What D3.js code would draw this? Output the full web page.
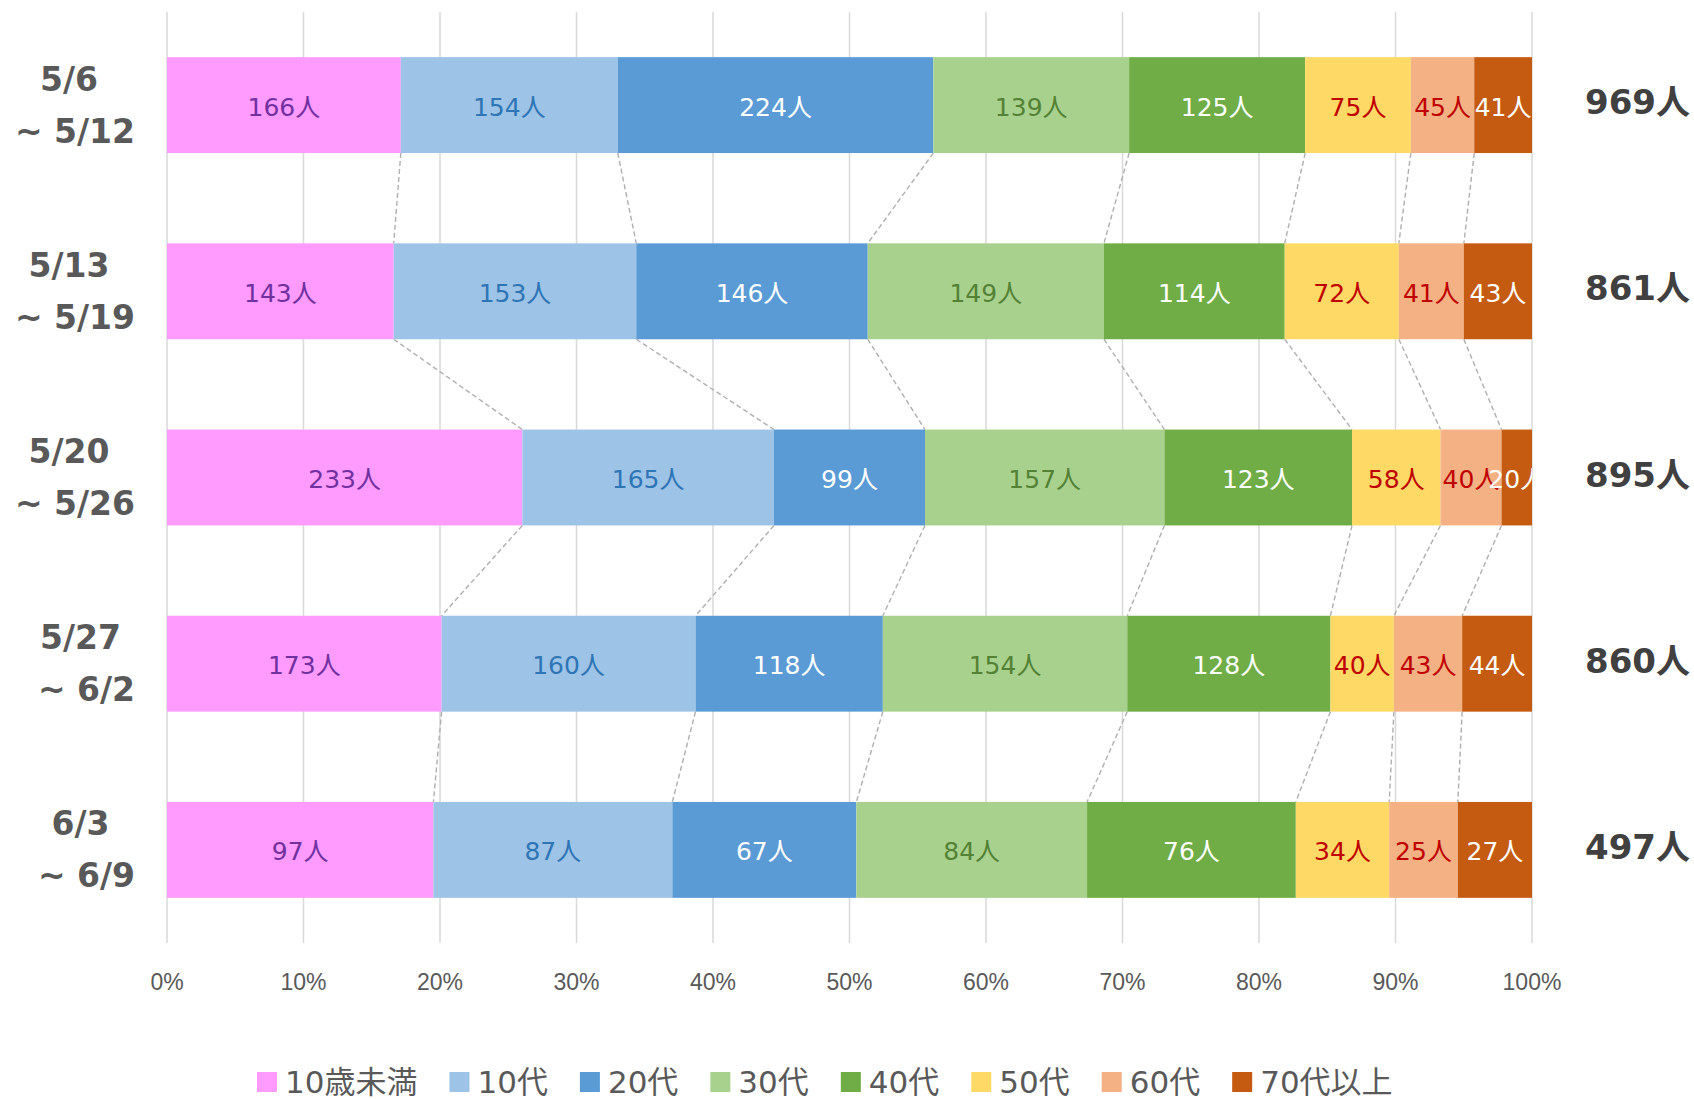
<!DOCTYPE html>
<html><head><meta charset="utf-8">
<script src="https://cdn.jsdelivr.net/npm/d3@7"></script>
<style>
html,body{margin:0;padding:0;background:#fff;}
svg{display:block;}
</style></head>
<body>
<svg id="chart" width="1694" height="1099"></svg>
<script>
const weeksLine1 = ["5/6", "5/13", "5/20", "5/27", "6/3"];
const weeksLine2 = ["~ 5/12", "~ 5/19", "~ 5/26", "~ 6/2", "~ 6/9"];
const ageGroups = ["10歳未満", "10代", "20代", "30代", "40代", "50代", "60代", "70代以上"];
const s10u  = [166, 143, 233, 173, 97];
const s10   = [154, 153, 165, 160, 87];
const s20   = [224, 146, 99, 118, 67];
const s30   = [139, 149, 157, 154, 84];
const s40   = [125, 114, 123, 128, 76];
const s50   = [75, 72, 58, 40, 34];
const s60   = [45, 41, 40, 43, 25];
const s70   = [41, 43, 20, 44, 27];
const tickValues = [0, 0.1, 0.2, 0.3, 0.4, 0.5, 0.6, 0.7, 0.8, 0.9, 1.0];

const seriesVals = [s10u, s10, s20, s30, s40, s50, s60, s70];
const fills = ["#FF9BFF", "#9DC3E6", "#5B9BD5", "#A9D18E", "#70AD47", "#FFD966", "#F4B183", "#C55A11"];
const labelColors = ["#7030A0", "#2E75B6", "#FFFFFF", "#548235", "#FFFFFF", "#C00000", "#C00000", "#FFFFFF"];

const svg = d3.select("#chart");
const W = 1694, H = 1099;
const plotL = 167, plotR = 1532, plotT = 12, plotB = 943;

const x = d3.scaleLinear().domain([0, 1]).range([plotL, plotR]);
const y = d3.scaleBand().domain(d3.range(weeksLine1.length)).range([plotT, plotB]).padding(0);
const barH = y.bandwidth() * 0.515;

const rows = weeksLine1.map((w, i) => {
  const o = {i};
  ageGroups.forEach((g, k) => o[g] = seriesVals[k][i]);
  o.total = d3.sum(seriesVals, s => s[i]);
  return o;
});
const stackRows = rows.map(r => {
  const o = {i: r.i};
  ageGroups.forEach(g => o[g] = r[g] / r.total);
  return o;
});
const stacked = d3.stack().keys(ageGroups)(stackRows);

// gridlines
svg.append("g").selectAll("line").data(tickValues).join("line")
  .attr("x1", d => x(d)).attr("x2", d => x(d))
  .attr("y1", plotT).attr("y2", plotB)
  .attr("stroke", "#D9D9D9").attr("stroke-width", 1.5);

// connectors
const conn = svg.append("g");
for (let k = 0; k < ageGroups.length - 1; k++) {
  for (let i = 0; i < rows.length - 1; i++) {
    const a = stacked[k][i][1], b = stacked[k][i + 1][1];
    conn.append("line")
      .attr("x1", x(a)).attr("y1", y(i) + y.bandwidth() / 2 + barH / 2)
      .attr("x2", x(b)).attr("y2", y(i + 1) + y.bandwidth() / 2 - barH / 2)
      .attr("stroke", "#AFAFAF").attr("stroke-width", 1.4)
      .attr("stroke-dasharray", "5,3");
  }
}

// bars
const gBars = svg.append("g");
stacked.forEach((layer, k) => {
  gBars.selectAll(null).data(layer).join("rect")
    .attr("x", d => x(d[0]))
    .attr("width", d => x(d[1]) - x(d[0]))
    .attr("y", (d, i) => y(i) + y.bandwidth() / 2 - barH / 2)
    .attr("height", barH)
    .attr("fill", fills[k]);
});

// clip for labels
svg.append("clipPath").attr("id", "plotclip").append("rect")
  .attr("x", plotL).attr("y", 0).attr("width", plotR - plotL).attr("height", H);
const gLab = svg.append("g").attr("clip-path", "url(#plotclip)");
stacked.forEach((layer, k) => {
  gLab.selectAll(null).data(layer).join("text")
    .attr("x", d => (x(d[0]) + x(d[1])) / 2)
    .attr("y", (d, i) => y(i) + y.bandwidth() / 2 + 2)
    .attr("text-anchor", "middle")
    .attr("dominant-baseline", "central")
    .attr("font-family", "'DejaVu Sans', 'Noto Sans CJK JP', sans-serif")
    .attr("font-size", 25)
    .attr("fill", labelColors[k])
    .text((d, i) => seriesVals[k][i] + "人");
});

// x axis tick labels
svg.append("g").selectAll("text").data(tickValues).join("text")
  .attr("x", d => x(d)).attr("y", 982)
  .attr("text-anchor", "middle").attr("dominant-baseline", "central")
  .attr("font-family", "'Liberation Sans', 'Open Sans', sans-serif")
  .attr("font-size", 23).attr("fill", "#595959")
  .text(d => d3.format(".0%")(d));

// left category labels
const gCat = svg.append("g");
rows.forEach((r, i) => {
  const cy = y(i) + y.bandwidth() / 2;
  const t2 = gCat.append("text")
    .attr("x", 135).attr("y", cy + 26)
    .attr("text-anchor", "end").attr("dominant-baseline", "central")
    .attr("font-family", "'DejaVu Sans', 'Noto Sans CJK JP', sans-serif")
    .attr("font-weight", "bold").attr("font-size", 33).attr("fill", "#595959")
    .text(weeksLine2[i]);
  const w2 = t2.node().getComputedTextLength();
  gCat.append("text")
    .attr("x", 135 - w2 / 2 - 6).attr("y", cy - 26)
    .attr("text-anchor", "middle").attr("dominant-baseline", "central")
    .attr("font-family", "'DejaVu Sans', 'Noto Sans CJK JP', sans-serif")
    .attr("font-weight", "bold").attr("font-size", 33).attr("fill", "#595959")
    .text(weeksLine1[i]);
});

// totals
svg.append("g").selectAll("text").data(rows).join("text")
  .attr("x", 1585).attr("y", (d, i) => y(i) + y.bandwidth() / 2 - 3)
  .attr("dominant-baseline", "central")
  .attr("font-family", "'DejaVu Sans', 'Noto Sans CJK JP', sans-serif")
  .attr("font-weight", "bold").attr("font-size", 34).attr("fill", "#404040")
  .text(d => d.total + "人");

// legend
const gLeg = svg.append("g");
let lx = 257;
const ly = 1082;
ageGroups.forEach((g, k) => {
  gLeg.append("rect").attr("x", lx).attr("y", ly - 10).attr("width", 20).attr("height", 20)
    .attr("fill", fills[k]);
  const t = gLeg.append("text").attr("x", lx + 28).attr("y", ly)
    .attr("dominant-baseline", "central")
    .attr("font-family", "'DejaVu Sans', 'Noto Sans CJK JP', sans-serif")
    .attr("font-size", 31).attr("fill", "#595959")
    .text(g);
  lx += 28 + t.node().getComputedTextLength() + 32;
});
</script>
</body></html>
